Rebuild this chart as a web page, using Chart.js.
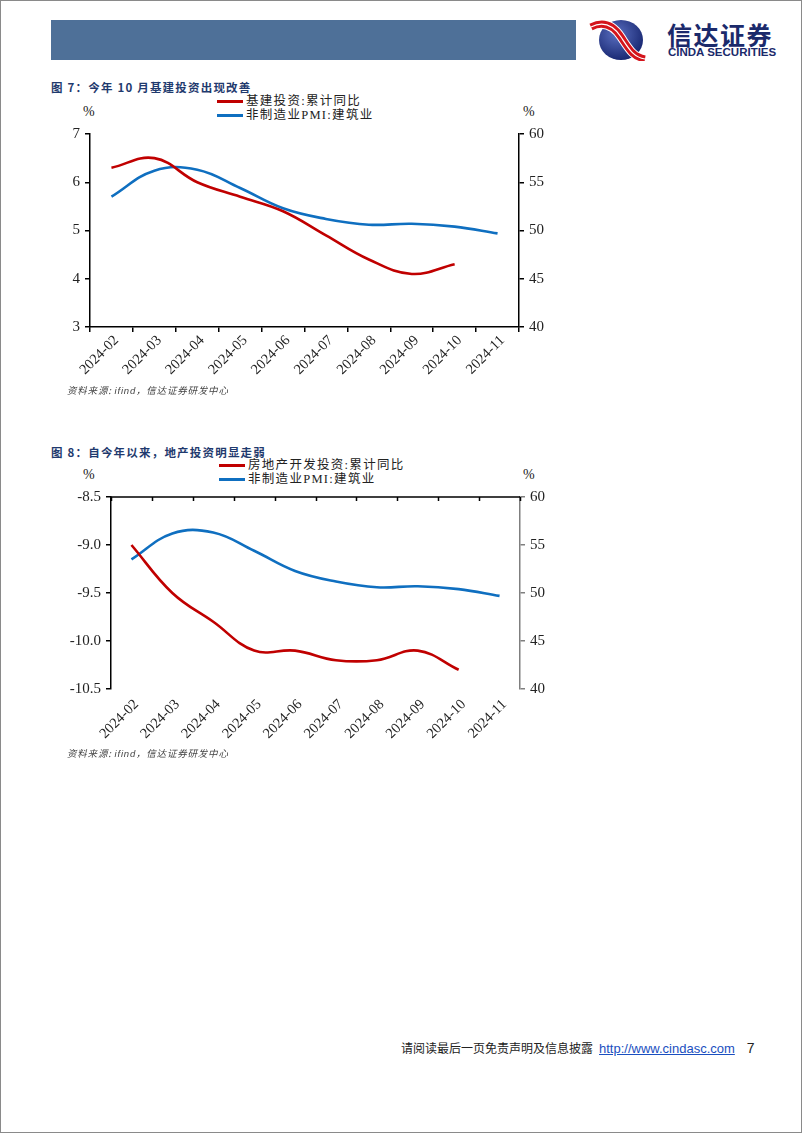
<!DOCTYPE html>
<html>
<head>
<meta charset="utf-8">
<script src="https://cdn.jsdelivr.net/npm/chart.js@4.4.1/dist/chart.umd.min.js"></script>
<style>
  html, body { margin: 0; padding: 0; background: #fff; }
  body { width: 802px; height: 1133px; position: relative; overflow: hidden; box-sizing: border-box; border: 1px solid #8a8a8a; }
  .abs { position: absolute; }
  .bar { left: 50px; top: 19px; width: 525px; height: 40px; background: #4e7098; }
  .title { font-family: "Noto Sans CJK SC", sans-serif; font-weight: bold; font-size: 11.5px; color: #1f3a6e; letter-spacing: 1.2px; white-space: nowrap; }
  .note { font-family: "Noto Sans CJK SC", sans-serif; font-style: italic; font-size: 9.5px; color: #444; letter-spacing: 0.8px; white-space: nowrap; }
  .note i { font-family: "Liberation Sans", sans-serif; }
  .pct { font-family: "Liberation Serif", serif; font-size: 14px; color: #222; }
  .legend { font-family: "Liberation Serif", "Noto Sans CJK SC", serif; font-size: 12.5px; color: #222; white-space: nowrap; letter-spacing: 1.3px; }
  .legend div { height: 14px; line-height: 14px; }
  .legend span.sw { display: inline-block; width: 26px; height: 3px; vertical-align: middle; margin-right: 3px; position: relative; top: -1px; }
  .chartbox { position: absolute; }
  .footer { font-family: "Noto Sans CJK SC", sans-serif; font-size: 12px; color: #222; white-space: nowrap; }
  .footer a { font-family: "Liberation Sans", sans-serif; font-size: 13px; color: #1a4fc0; text-decoration: underline; margin-left: 6px; }
  .footer b { font-family: "Liberation Sans", sans-serif; font-weight: normal; font-size: 14px; margin-left: 12px; }
</style>
</head>
<body>
<div class="abs bar"></div>
<svg class="abs" style="left:588px;top:18px" width="60" height="42" viewBox="0 0 60 42">
  <defs>
    <radialGradient id="g" cx="0.4" cy="0.35" r="0.7">
      <stop offset="0" stop-color="#5a6fc0"/>
      <stop offset="1" stop-color="#15246e"/>
    </radialGradient>
  </defs>
  <ellipse cx="32" cy="21" rx="22" ry="20" fill="url(#g)"/>
  <path d="M2 8 C 14 2, 24 6, 32 18 S 44 38, 56 40" stroke="#fff" stroke-width="9" fill="none"/>
  <path d="M2 8 C 14 2, 24 6, 32 18 S 44 38, 56 40" stroke="#d4141c" stroke-width="7" fill="none"/>
  <path d="M2 8 C 14 2, 24 6, 32 18 S 44 38, 56 40" stroke="#fff" stroke-width="1.2" fill="none"/>
</svg>
<div class="abs" style="left:666px;top:20px;font-family:'Noto Sans CJK SC',sans-serif;font-weight:bold;font-size:25px;color:#1b2a6b;letter-spacing:1.5px;line-height:26px;">信达证券</div>
<div class="abs" style="left:667px;top:46px;font-family:'Liberation Sans',sans-serif;font-weight:bold;font-size:11.5px;color:#1b2a6b;line-height:11px;white-space:nowrap;">CINDA SECURITIES</div>

<div class="abs title" style="left:50px;top:78px;">图 7：今年 10 月基建投资出现改善</div>
<div class="abs legend" id="leg1" style="left:216px;top:93px;"></div>
<div class="abs pct" style="left:82px;top:103px;">%</div>
<div class="abs pct" style="left:522px;top:103px;">%</div>
<div class="chartbox" style="left:40px;top:119px;width:530px;height:266px;"><canvas id="c1"></canvas></div>
<div class="abs note" style="left:66px;top:382px;">资料来源: <i>ifind</i>，信达证券研发中心</div>

<div class="abs title" style="left:50px;top:443px;">图 8：自今年以来，地产投资明显走弱</div>
<div class="abs legend" id="leg2" style="left:218px;top:457px;"></div>
<div class="abs pct" style="left:82px;top:466px;">%</div>
<div class="abs pct" style="left:522px;top:466px;">%</div>
<div class="chartbox" style="left:40px;top:482px;width:530px;height:265px;"><canvas id="c2"></canvas></div>
<div class="abs note" style="left:66px;top:745px;">资料来源: <i>ifind</i>，信达证券研发中心</div>

<div class="abs footer" style="left:400px;top:1038px;">请阅读最后一页免责声明及信息披露<a>http://www.cindasc.com</a><b>7</b></div>

<script>
// categories
var months = ["2024-02", "2024-03", "2024-04", "2024-05", "2024-06", "2024-07", "2024-08", "2024-09", "2024-10", "2024-11"];
// series (%)
var infraYoY = [6.3, 6.5, 6.0, 5.7, 5.4, 4.9, 4.4, 4.1, 4.3, null];
var propertyYoY = [-9.0, -9.5, -9.8, -10.1, -10.1, -10.2, -10.2, -10.1, -10.3, null];
var constructionPMI = [53.5, 56.2, 56.3, 54.4, 52.3, 51.2, 50.6, 50.7, 50.4, 49.7];
// labels
var infraLabel = "基建投资:累计同比";
var propertyLabel = "房地产开发投资:累计同比";
var pmiLabel = "非制造业PMI:建筑业";
// axis ranges
var left1 = [3, 7, 1];
var left2 = [-10.5, -8.5, 0.5];
var right = [40, 60, 5];

var RED = "#c00000";
var BLUE = "#0f6fc0";

function legendHtml(el, items) {
  document.getElementById(el).innerHTML = items.map(function (it) {
    return '<div><span class="sw" style="background:' + it[1] + '"></span>' + it[0] + '</div>';
  }).join("");
}
legendHtml("leg1", [[infraLabel, RED], [pmiLabel, BLUE]]);
legendHtml("leg2", [[propertyLabel, RED], [pmiLabel, BLUE]]);

// top axis line with inward ticks (chart 2)
var topAxis = {
  id: "topAxis",
  afterDraw: function (chart) {
    if (!chart.options.plugins.topAxis || !chart.options.plugins.topAxis.show) return;
    var x = chart.scales.x, a = chart.chartArea, c = chart.ctx;
    var half = (x.getPixelForValue(1) - x.getPixelForValue(0)) / 2;
    c.save();
    c.strokeStyle = "#000";
    c.lineWidth = 1.5;
    c.beginPath();
    c.moveTo(a.left, a.top);
    c.lineTo(a.right, a.top);
    for (var i = 0; i <= months.length; i++) {
      var px = Math.round(x.getPixelForValue(i) - half) + 0.5;
      c.moveTo(px, a.top);
      c.lineTo(px, a.top + 4);
    }
    c.stroke();
    c.restore();
  }
};

function makeChart(id, redLabel, redData, leftRange, leftW, rightW, bottomAxis, rightColor, fixed) {
  var tickFont = { family: "Liberation Serif", size: 15 };
  return new Chart(document.getElementById(id).getContext("2d"), {
    type: "line",
    data: {
      labels: months,
      datasets: [{
        label: redLabel,
        data: redData,
        yAxisID: "y",
        borderColor: RED,
        borderWidth: 2.6,
        pointRadius: 0,
        tension: 0.4,
        fill: false
      }, {
        label: pmiLabel,
        data: constructionPMI,
        yAxisID: "y1",
        borderColor: BLUE,
        borderWidth: 2.6,
        pointRadius: 0,
        tension: 0.4,
        fill: false
      }]
    },
    options: {
      responsive: true,
      maintainAspectRatio: false,
      animation: false,
      layout: { padding: { top: 0, bottom: 0, left: 0, right: 0 } },
      plugins: {
        legend: { display: false },
        tooltip: { enabled: false },
        topAxis: { show: !bottomAxis }
      },
      scales: {
        x: {
          offset: true,
          border: { display: bottomAxis, color: "#000", width: 1.5 },
          grid: {
            display: bottomAxis,
            offset: true,
            drawOnChartArea: false,
            drawTicks: true,
            tickLength: 5,
            color: "#000",
            lineWidth: 1.5
          },
          ticks: {
            minRotation: 45,
            maxRotation: 45,
            autoSkip: false,
            padding: bottomAxis ? 0 : 2,
            labelOffset: 5,
            color: "#222",
            font: { family: "Liberation Serif", size: 14.5 }
          },
          afterFit: function (s) { s.height = 59; }
        },
        y: {
          position: "left",
          min: leftRange[0],
          max: leftRange[1],
          border: { display: true, color: "#000", width: 1.5 },
          grid: { drawOnChartArea: false, drawTicks: true, tickLength: 5, color: "#000", lineWidth: 1.5 },
          ticks: {
            stepSize: leftRange[2],
            padding: 5,
            color: "#222",
            font: tickFont,
            callback: function (v) { return fixed ? v.toFixed(1) : v; }
          },
          afterFit: function (s) { s.width = leftW; }
        },
        y1: {
          position: "right",
          min: right[0],
          max: right[1],
          border: { display: true, color: rightColor, width: 1.5 },
          grid: { drawOnChartArea: false, drawTicks: true, tickLength: 5, color: rightColor, lineWidth: 1.5 },
          ticks: { stepSize: right[2], padding: 5, color: "#222", font: tickFont },
          afterFit: function (s) { s.width = rightW; }
        }
      }
    },
    plugins: [topAxis]
  });
}

makeChart("c1", infraLabel, infraYoY, left1, 49, 52, true, "#000", false);
makeChart("c2", propertyLabel, propertyYoY, left2, 70, 51, false, "#7f7f7f", true);
</script>
</body>
</html>
